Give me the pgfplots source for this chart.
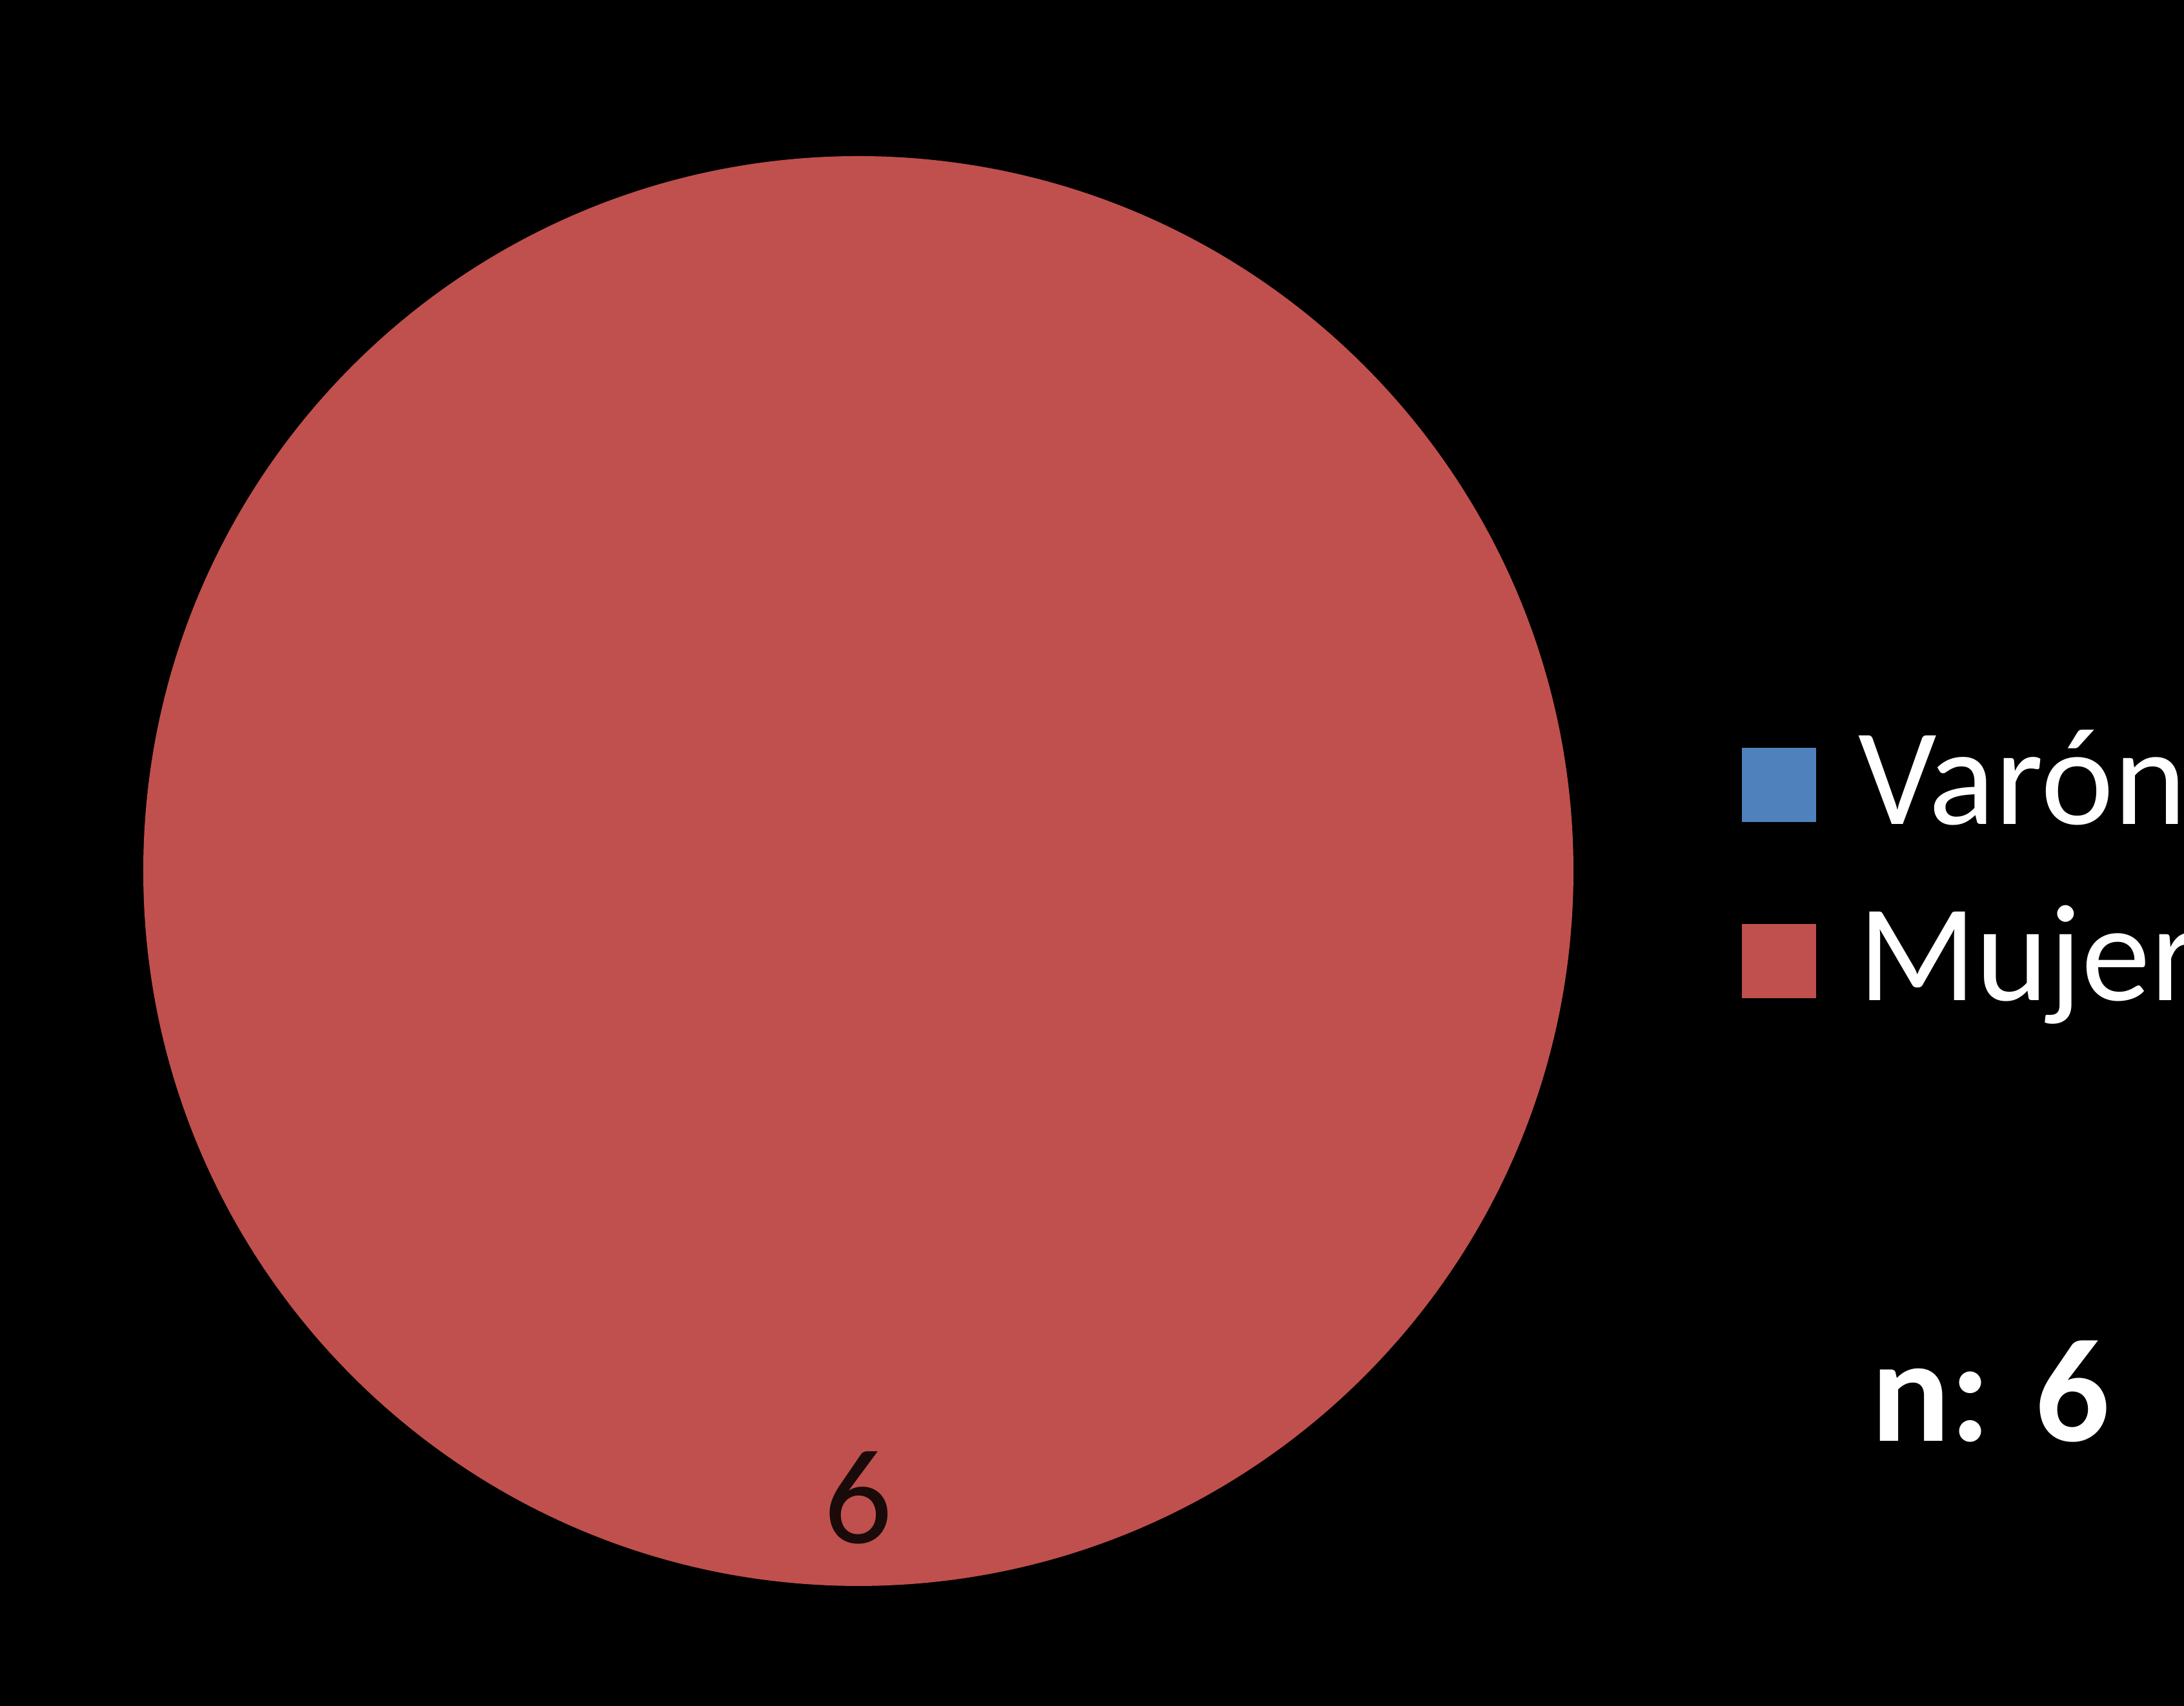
\documentclass[border=0pt]{standalone}
\usepackage{pgfplots}
\usepackage{pgfplotstable}
\pgfplotsset{compat=1.18}
\usepackage{fontspec}
\setmainfont{Carlito}
\definecolor{varon}{HTML}{4F81BD}
\definecolor{mujer}{HTML}{C0504D}
\definecolor{labeltxt}{HTML}{1A0A0A}
\pgfplotstableread{
sexo value
Varon 0
Mujer 6
}\piedata

\begin{document}
\begin{tikzpicture}
\pgfplotstablegetelem{0}{value}\of\piedata \pgfmathsetmacro{\vA}{\pgfplotsretval}
\pgfplotstablegetelem{1}{value}\of\piedata \pgfmathsetmacro{\vB}{\pgfplotsretval}
\let\vBtext\pgfplotsretval
\pgfmathsetmacro{\tot}{\vA+\vB}
\pgfmathsetmacro{\sA}{90}
\pgfmathsetmacro{\dA}{-360*\vA/\tot}
\pgfmathsetmacro{\dB}{-360*\vB/\tot}
\pgfmathsetmacro{\sB}{90+\dA}
\pgfmathsetmacro{\mB}{\sB+\dB/2}
\clip (0,0) rectangle (338.4pt,264.4pt);
\fill[black] (0,0) rectangle (338.4pt,264.4pt);
\begin{axis}[
  at={(133pt,129.4pt)}, anchor=center,
  scale only axis, width=221.6pt, height=221.6pt,
  xmin=-1, xmax=1, ymin=-1, ymax=1,
  hide axis, clip=false,
  legend style={at={(axis cs:1.2356,0.2004)}, anchor=north west,
    draw=none, fill=none, text=white,
    font=\fontsize{21.4}{25}\selectfont,
    inner sep=0pt, outer sep=0pt, row sep=7.3pt, column sep=6.5pt,
    cells={anchor=base west},
    nodes={inner sep=0pt, text height=15pt, text depth=5pt, anchor=base west}},
  legend image code/.code={\fill[#1] (0pt,0.4pt) rectangle (11.5pt,11.9pt);},
]
\addlegendimage{fill=varon, draw=none}
\addlegendentry{Varón}
\addlegendimage{fill=mujer, draw=none}
\addlegendentry{Mujer}
% slices (clockwise from 12 o'clock, as in the original)
\fill[varon] (axis cs:0,0) -- ([shift={(\sA:110.8pt)}]axis cs:0,0) arc[start angle=\sA, delta angle=\dA, radius=110.8pt] -- cycle;
\fill[mujer] (axis cs:0,0) -- ([shift={(\sB:110.8pt)}]axis cs:0,0) arc[start angle=\sB, delta angle=\dB, radius=110.8pt] -- cycle;
% data label
\node[text=labeltxt, font=\fontsize{21}{25}\selectfont, inner sep=0pt]
  at (axis cs:{0.877*cos(\mB)},{0.877*sin(\mB)}) {\vBtext};
% sample size
\node[anchor=base west, text=white, font=\fontsize{22.8}{27}\selectfont\bfseries, inner sep=0pt]
  at (axis cs:1.4143,-0.797) {n: 6};
\end{axis}
\end{tikzpicture}
\end{document}
